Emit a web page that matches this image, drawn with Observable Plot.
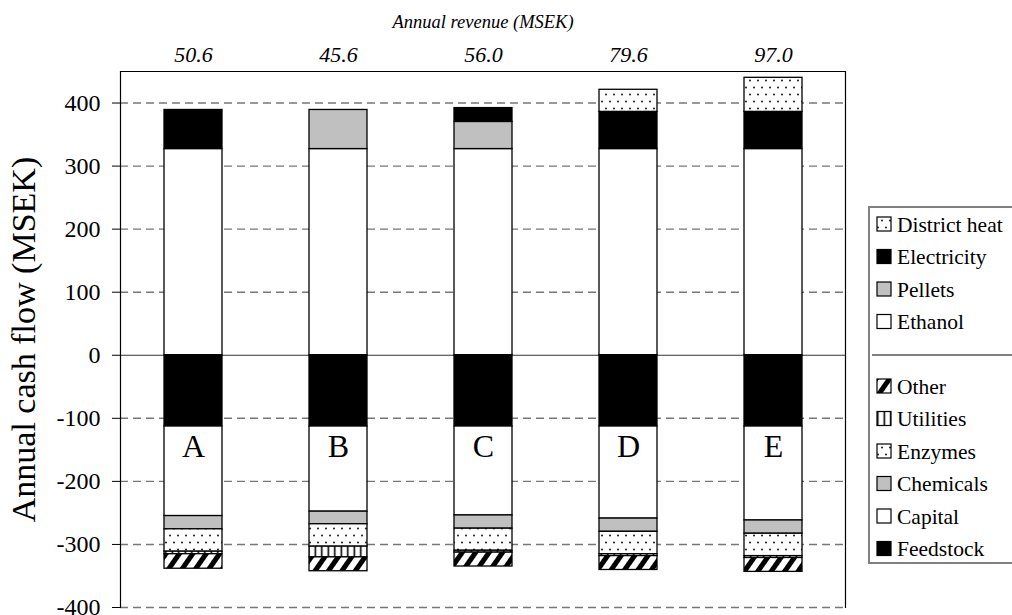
<!DOCTYPE html>
<html>
<head>
<meta charset="utf-8">
<script src="https://cdn.jsdelivr.net/npm/d3@7"></script>
<script src="https://cdn.jsdelivr.net/npm/@observablehq/plot@0.6"></script>
<style>
  html, body { margin: 0; padding: 0; background: white; overflow: hidden; }
  #wrap { position: relative; width: 1012px; height: 615px; }
  #legend { position: absolute; left: 868px; top: 206px; }
</style>
</head>
<body>
<svg width="0" height="0" style="position:absolute">
  <defs>
    <pattern id="dots" patternUnits="userSpaceOnUse" width="8" height="14">
      <rect width="8" height="14" fill="white"/>
      <circle cx="2" cy="3.5" r="0.9" fill="black"/>
      <circle cx="6" cy="10.5" r="0.9" fill="black"/>
    </pattern>
    <pattern id="vstripes" patternUnits="userSpaceOnUse" width="6.5" height="10">
      <rect width="6.5" height="10" fill="white"/>
      <rect x="2.5" width="1.6" height="10" fill="black"/>
    </pattern>
    <pattern id="hatch" patternUnits="userSpaceOnUse" width="11" height="11" patternTransform="rotate(35)">
      <rect width="11" height="11" fill="white"/>
      <rect x="0" width="5" height="11" fill="black"/>
    </pattern>
  </defs>
</svg>
<div id="wrap"></div>
<script>
// ---- data ----
const scenarios = ["A", "B", "C", "D", "E"];
const revenueLabels = ["50.6", "45.6", "56.0", "79.6", "97.0"];
// revenues (positive, MSEK)
const ethanol      = [327, 327, 327, 327, 327];
const pellets      = [0, 62, 43, 0, 0];
const electricity  = [62, 0, 22, 59, 59];
const districtHeat = [0, 0, 0, 35, 54];
// costs (MSEK)
const feedstock = [113, 113, 113, 113, 113];
const capital   = [142, 135, 141, 146, 149];
const chemicals = [21, 20, 21, 21, 21];
const enzymes   = [35.5, 35.5, 35, 35.5, 35.5];
const utilities = [4, 17, 3, 3, 3];
const other     = [23, 22, 22, 22, 22];
const yTicks = [-400, -300, -200, -100, 0, 100, 200, 300, 400];

const incomeSeries = [["Ethanol", ethanol], ["Pellets", pellets], ["Electricity", electricity], ["District heat", districtHeat]];
const costSeries = [["Feedstock", feedstock], ["Capital", capital], ["Chemicals", chemicals], ["Enzymes", enzymes], ["Utilities", utilities], ["Other", other]];

const fillOf = {
  "Ethanol": "white", "Pellets": "#c0c0c0", "Electricity": "black", "District heat": "url(#dots)",
  "Feedstock": "black", "Capital": "white", "Chemicals": "#c0c0c0", "Enzymes": "url(#dots)",
  "Utilities": "url(#vstripes)", "Other": "url(#hatch)"
};

const rows = [];
for (const [name, vals] of incomeSeries) vals.forEach((v, i) => { if (v > 0) rows.push({scenario: scenarios[i], series: name, value: v}); });
for (const [name, vals] of costSeries) vals.forEach((v, i) => { if (v > 0) rows.push({scenario: scenarios[i], series: name, value: -v}); });
const order = [...incomeSeries.map(d => d[0]), ...costSeries.map(d => d[0])];

const serif = "'Liberation Serif', 'Times New Roman', Times, serif";

const chart = Plot.plot({
  width: 1012,
  height: 615,
  marginLeft: 120,
  marginRight: 167,
  marginTop: 71,
  marginBottom: 8,
  style: {fontFamily: serif, fontSize: "20px", background: "white", overflow: "visible"},
  x: {type: "band", domain: scenarios, paddingInner: 0.6, paddingOuter: 0.3, axis: null},
  y: {domain: [-400, 450]},
  color: {type: "identity"},
  marks: [
    Plot.gridY(yTicks.filter(d => d !== 0), {stroke: "#777", strokeOpacity: 1, strokeDasharray: "8,5", strokeWidth: 1.4}),
    Plot.ruleY([0], {stroke: "#333", strokeWidth: 1.2}),
    Plot.barY(rows, {x: "scenario", y: "value", z: "series", order, fill: d => fillOf[d.series], stroke: "black", strokeWidth: 1.3}),
    Plot.frame({anchor: "left", stroke: "black", strokeWidth: 1.2}),
    Plot.frame({anchor: "top", stroke: "black", strokeWidth: 1}),
    Plot.frame({anchor: "right", stroke: "black", strokeWidth: 1.2}),
    Plot.axisY(yTicks, {tickSize: 8, tickPadding: 12, fontSize: 24, tickFormat: d => String(d), label: null}),
    Plot.text(scenarios, {x: d => d, y: (d, i) => -feedstock[i], text: d => d, lineAnchor: "top", dy: 8, fontSize: 32, fill: "black"}),
    Plot.text(scenarios, {x: d => d, text: (d, i) => revenueLabels[i], frameAnchor: "top", lineAnchor: "middle", dy: -17, fontSize: 22, fontStyle: "italic", fill: "black"}),
    Plot.text(["Annual revenue (MSEK)"], {frameAnchor: "top", lineAnchor: "middle", dy: -49, fontSize: 18.5, fontStyle: "italic", fill: "black"}),
    Plot.text(["Annual cash flow (MSEK)"], {frameAnchor: "left", textAnchor: "middle", lineAnchor: "middle", rotate: -90, dx: -96, fontSize: 34, fill: "black"})
  ]
});
document.getElementById("wrap").appendChild(chart);

// ---- legend ----
const legendTop = ["District heat", "Electricity", "Pellets", "Ethanol"];
const legendBottom = ["Other", "Utilities", "Enzymes", "Chemicals", "Capital", "Feedstock"];
const lg = d3.select("#wrap").append("svg")
  .attr("id", "legend")
  .attr("width", 150).attr("height", 360)
  .style("font-family", serif);
lg.append("rect").attr("x", 1).attr("y", 1).attr("width", 170).attr("height", 356)
  .attr("fill", "white").attr("stroke", "#808080").attr("stroke-width", 2);
const items = [
  ...legendTop.map((d, i) => ({name: d, y: 18 + i * 32.5})),
  ...legendBottom.map((d, i) => ({name: d, y: 180 + i * 32.5}))
];
const g = lg.selectAll("g.item").data(items).join("g").attr("class", "item")
  .attr("transform", d => `translate(0,${d.y})`);
g.append("rect").attr("x", 9).attr("y", -7).attr("width", 14).attr("height", 14)
  .attr("fill", d => fillOf[d.name]).attr("stroke", "black").attr("stroke-width", 1.2);
g.append("text").attr("x", 29).attr("y", 0).attr("dy", "0.35em")
  .attr("font-size", 21.5).text(d => d.name);
lg.append("line").attr("x1", 4).attr("x2", 150).attr("y1", 149).attr("y2", 149)
  .attr("stroke", "black").attr("stroke-width", 1.2);
</script>
</body>
</html>
